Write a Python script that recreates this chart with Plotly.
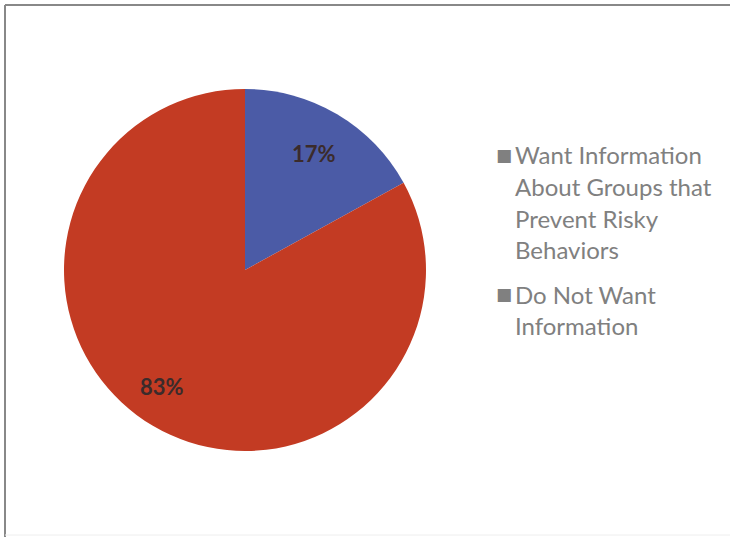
import math
import plotly.graph_objects as go

labels = ["Want Information About Groups that Prevent Risky Behaviors", "Do Not Want Information"]
values = [17, 83]
colors = ["#4B5BA6", "#C33B23"]
legend_lines = [["Want Information", "About Groups that", "Prevent Risky", "Behaviors"],
                ["Do Not Want", "Information"]]

W, H = 730, 537
cx, cy, R = 245, 270, 181
fig = go.Figure()
fig.add_trace(go.Pie(
    labels=labels, values=values, sort=False, direction="clockwise", rotation=0,
    marker=dict(colors=colors, line=dict(width=0)),
    textinfo="none",
    domain=dict(x=[(cx-R)/W, (cx+R)/W], y=[(H-cy-R)/H, (H-cy+R)/H]),
    showlegend=False, hoverinfo="label+percent",
))

def py(yp):
    return (H - yp) / H

annotations = []
# percentage labels positioned from slice mid-angles
total = sum(values)
cum = 0
rfac = [0.75, 0.79]
angoff = [0, 5]
for i, v in enumerate(values):
    mid = (cum + v / 2) / total * 360 + angoff[i]
    cum += v
    a = math.radians(mid)
    x = cx + rfac[i] * R * math.sin(a)
    y = cy - rfac[i] * R * math.cos(a)
    annotations.append(dict(x=x/W, y=py(y), xref="paper", yref="paper",
                            text=f"{round(v/total*100)}%", showarrow=False,
                            xanchor="center", yanchor="middle",
                            font=dict(family="Lato", size=22, color="#3b2b2b", weight="bold")))

item_tops = [155, 294]
for top, lines in zip(item_tops, legend_lines):
    annotations.append(dict(x=494/W, y=py(top), xref="paper", yref="paper", text="■",
                            showarrow=False, xanchor="left", yanchor="middle",
                            font=dict(family="DejaVu Sans", size=17, color="#808080")))
    for i, ln in enumerate(lines):
        annotations.append(dict(x=513/W, y=py(top + i*31.5), xref="paper", yref="paper", text=ln,
                                showarrow=False, xanchor="left", yanchor="middle",
                                font=dict(family="Lato", size=24, color="#808080")))

shapes = [
    dict(type="line", xref="paper", yref="paper", x0=5/W, x1=1, y0=py(5), y1=py(5),
         line=dict(color="#888888", width=2)),
    dict(type="line", xref="paper", yref="paper", x0=5/W, x1=5/W, y0=py(5), y1=0,
         line=dict(color="#888888", width=2)),
    dict(type="line", xref="paper", yref="paper", x0=5/W, x1=1, y0=py(535), y1=py(535),
         line=dict(color="#eeeeee", width=1)),
]

fig.update_layout(width=W, height=H, margin=dict(l=0, r=0, t=0, b=0),
                  paper_bgcolor="white", plot_bgcolor="white",
                  annotations=annotations, shapes=shapes)
fig.write_html("out.html")
